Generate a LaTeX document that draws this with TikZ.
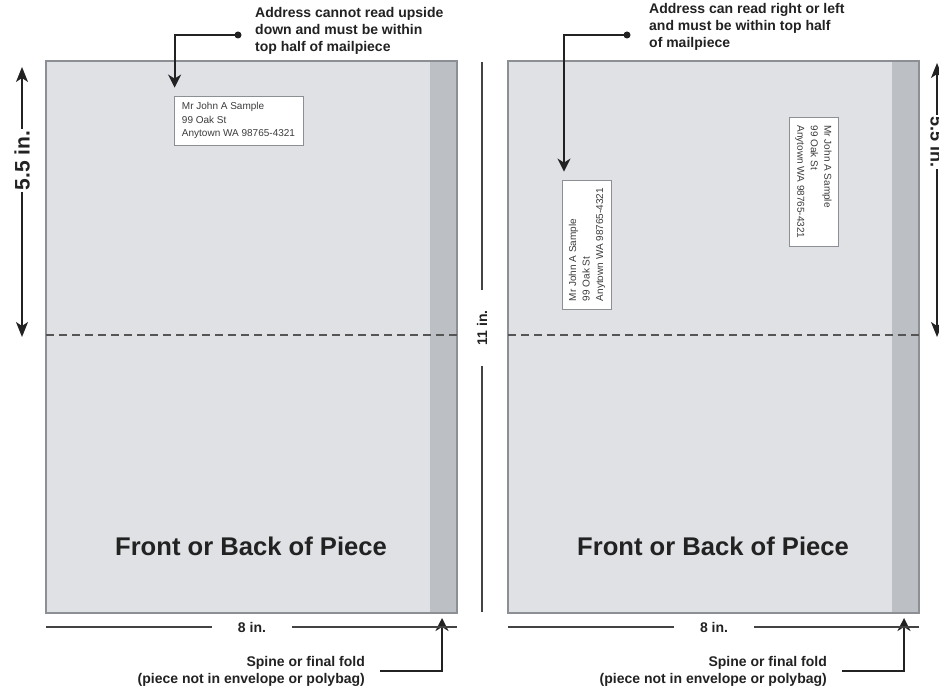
\documentclass[tikz,border=0pt]{standalone}
\usepackage{fontspec}
\setmainfont{Liberation Sans}
\usetikzlibrary{arrows.meta}
\definecolor{paper}{HTML}{DFE1E5}
\definecolor{spinec}{HTML}{BCC0C4}
\definecolor{edgec}{HTML}{8C9094}
\definecolor{ink}{HTML}{222222}
\definecolor{addrc}{HTML}{3C3C3C}
\definecolor{dashc}{HTML}{555555}
\begin{document}
\begin{tikzpicture}[x=1pt,y=-1pt,
  note/.style={font=\bfseries\fontsize{14}{17}\selectfont, text=ink, inner sep=0pt},
  bigtitle/.style={font=\bfseries\fontsize{25.6}{30}\selectfont, text=ink, inner sep=0pt},
  addrbox/.style={draw=edgec, fill=white, line width=0.8pt, align=left,
     font=\fontsize{10}{13.5}\selectfont, text=addrc,
     minimum width=129pt, minimum height=49pt, inner sep=0pt},
  dotnode/.style={circle, fill=ink, minimum size=7pt, inner sep=0pt},
  conn/.style={draw=ink, line width=2pt, -{Stealth[length=13pt,width=13pt,inset=4pt]}},
  dimarr/.style={draw=ink, line width=1.5pt, -{Stealth[length=15pt,width=12pt,inset=4pt]}},
  dimline/.style={draw=ink!85, line width=1.5pt},
  dimlab/.style={font=\bfseries\fontsize{14}{17}\selectfont, text=ink},
  dashline/.style={draw=dashc, line width=1.2pt, dash pattern=on 8pt off 5pt}
]
\useasboundingbox (0,0) rectangle (939,692);
\clip (0,0) rectangle (939,692);
\fill[white] (0,0) rectangle (939,692);

% panels
\fill[paper] (46,61) rectangle (457,613);
\fill[spinec] (430,61) rectangle (457,613);
\draw[edgec, line width=1.3pt] (46,61) rectangle (457,613);
\fill[paper] (508,61) rectangle (919,613);
\fill[spinec] (892,61) rectangle (919,613);
\draw[edgec, line width=1.3pt] (508,61) rectangle (919,613);

% half lines
\draw[dashline] (46,335) -- (457,335);
\draw[dashline] (508,335) -- (919,335);

% titles
\node[bigtitle, anchor=base] (titleL) at (251,555) {Front or Back of Piece};
\node[bigtitle, anchor=base] (titleR) at (713,555) {Front or Back of Piece};

% address boxes
\node[addrbox] (addrL) at (238.5,120.5) {Mr John A Sample\\99 Oak St\\Anytown WA 98765-4321};
\node[addrbox, rotate=90] (addrRa) at (587,244.5) {Mr John A Sample\\99 Oak St\\Anytown WA 98765-4321};
\node[addrbox, rotate=-90] (addrRb) at (813.5,182) {Mr John A Sample\\99 Oak St\\Anytown WA 98765-4321};

% top notes
\node[note, anchor=north west, align=left] (noteL) at (255,7) {Address cannot read upside\\down and must be within\\top half of mailpiece};
\node[note, anchor=north west, align=left] (noteR) at (649,3) {Address can read right or left\\and must be within top half\\of mailpiece};
\node[dotnode] (dotL) at (238,35) {};
\node[dotnode] (dotR) at (627,35) {};
\draw[conn, shorten >=8pt] (dotL.center) -| ([xshift=1pt]addrL.north west);
\draw[conn, shorten >=8pt] (dotR.center) -| ([xshift=-23pt]addrRa.east);

% bottom notes
\node[note, anchor=north east, align=right] (spineL) at (365,656) {Spine or final fold\\(piece not in envelope or polybag)};
\node[note, anchor=north east, align=right] (spineR) at (827,656) {Spine or final fold\\(piece not in envelope or polybag)};
\coordinate (foldL) at (442,618);
\coordinate (foldR) at (904,618);
\draw[conn] ([xshift=15pt]spineL.east) -| (foldL);
\draw[conn] ([xshift=15pt]spineR.east) -| (foldR);

% 8 in.
\node[dimlab, inner xsep=26pt] (w8L) at (252,627) {8 in.};
\draw[dimline] (w8L.west) -- (46,627);
\draw[dimline] (w8L.east) -- (457,627);
\node[dimlab, inner xsep=26pt] (w8R) at (714,627) {8 in.};
\draw[dimline] (w8R.west) -- (508,627);
\draw[dimline] (w8R.east) -- (919,627);

% 11 in.
\node[dimlab, rotate=90, inner xsep=20pt] (h11) at (482,328) {11 in.};
\draw[dimline] (h11.east) -- (482,62);
\draw[dimline] (h11.west) -- (482,612);

% 5.5 in.
\node[dimlab, font=\bfseries\fontsize{21}{24}\selectfont, rotate=90, inner xsep=1.5pt] (h55L) at (22,160.5) {5.5 in.};
\coordinate (h55Lt) at (22,67);
\coordinate (h55Lb) at (22,337);
\draw[dimarr] (h55L.east) -- (h55Lt);
\draw[dimarr] (h55L.west) -- (h55Lb);

\node[dimlab, font=\bfseries\fontsize{18}{22}\selectfont, rotate=-90, inner xsep=1.5pt] (h55R) at (937,142) {5.5 in.};
\coordinate (h55Rt) at (937,63);
\coordinate (h55Rb) at (937,337);
\draw[dimarr] (h55R.west) -- (h55Rt);
\draw[dimarr] (h55R.east) -- (h55Rb);
\end{tikzpicture}
\end{document}
